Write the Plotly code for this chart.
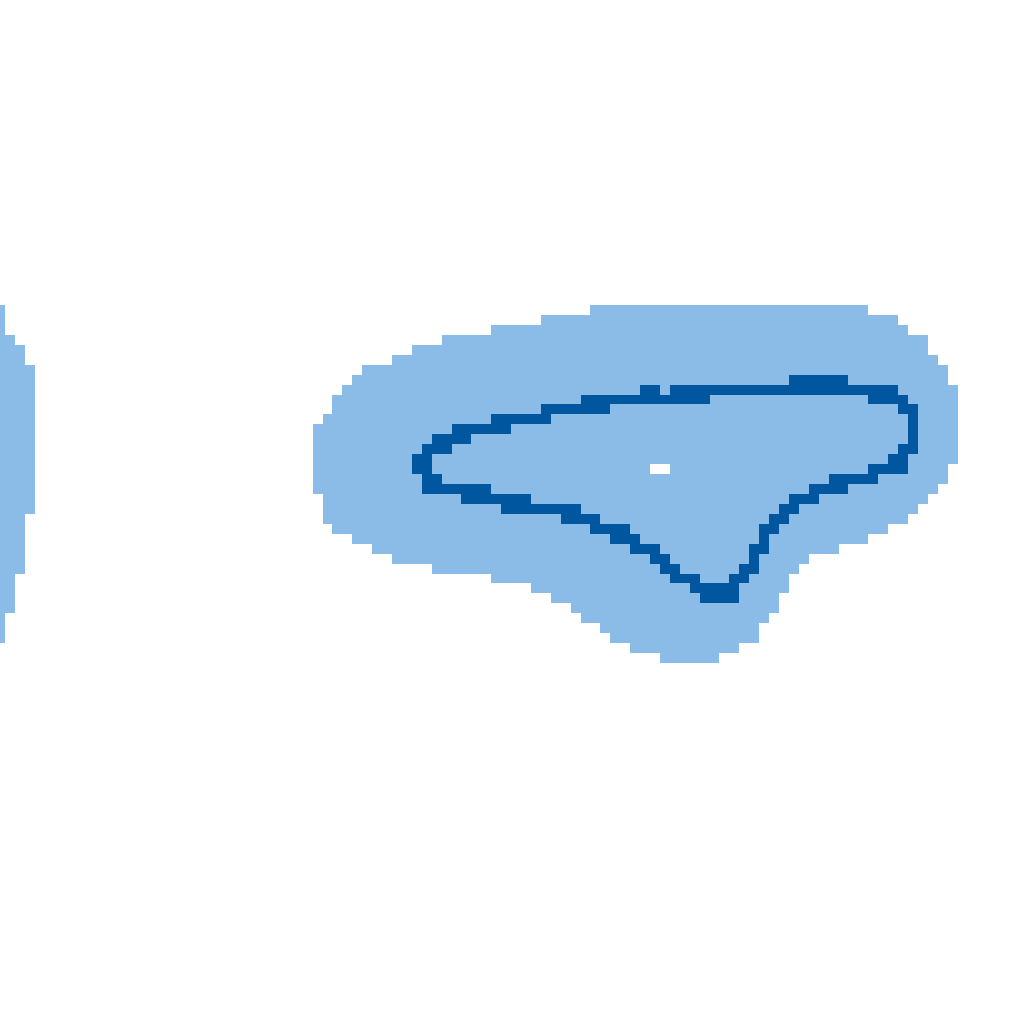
import numpy as np
import plotly.graph_objects as go

# ---- data (grid cell indices) ----
N_COLS = 104
N_ROWS = 104
FIRST_ROW = 31  # first row of the main shape

# main light region, rows 31..66: left / right column (inclusive)
light_left = [60, 55, 50, 45, 42, 40, 37, 36, 35, 34,
              34, 33, 32, 32, 32, 32, 32, 32, 32,
              33, 33, 33, 34, 36, 38, 40, 44, 50, 54,
              56, 58, 59, 61, 62, 64, 67]
light_right = [87, 90, 91, 93, 93, 94, 95, 95, 96, 96,
               96, 96, 96, 96, 96, 96, 95, 95, 94,
               93, 92, 91, 89, 87, 84, 81, 80, 79, 79,
               78, 78, 77, 76, 76, 74, 72]

# left-edge blob, rows 31..64: right column (starts at column 0)
blob_right = [0, 0, 0, 1, 2, 2,
              3, 3, 3, 3, 3, 3, 3, 3, 3, 3, 3, 3, 3, 3, 3,
              2, 2, 2, 2, 2, 2,
              1, 1, 1, 1,
              0, 0, 0]

# dark contour segments, keyed by row: (start col, end col)
dark_rows = {
    38: [(80, 85)],
    39: [(65, 66), (68, 90)],
    40: [(59, 71), (88, 91)],
    41: [(55, 61), (91, 92)],
    42: [(50, 55), (92, 92)],
    43: [(46, 51), (92, 92)],
    44: [(44, 47), (92, 92)],
    45: [(43, 45), (91, 92)],
    46: [(42, 43), (90, 91)],
    47: [(42, 43), (88, 91)],
    48: [(43, 44), (84, 88)],
    49: [(43, 49), (82, 85)],
    50: [(47, 53), (80, 82)],
    51: [(51, 58), (79, 80)],
    52: [(57, 60), (78, 79)],
    53: [(60, 63), (77, 78)],
    54: [(62, 64), (77, 77)],
    55: [(64, 66), (76, 77)],
    56: [(66, 67), (76, 76)],
    57: [(67, 68), (75, 76)],
    58: [(68, 70), (74, 75)],
    59: [(70, 74)],
    60: [(71, 74)],
}

# small hole inside the shape
hole_cells = [(47, 66), (47, 67)]

LIGHT = "#8ABCE7"
DARK = "#00569F"

# ---- build the grid ----
z = np.full((N_ROWS, N_COLS), np.nan)
for i, (l, r) in enumerate(zip(light_left, light_right)):
    z[FIRST_ROW + i, l:r + 1] = 1
for i, r in enumerate(blob_right):
    z[FIRST_ROW + i, 0:r + 1] = 1
for row, segs in dark_rows.items():
    for a, b in segs:
        z[row, a:b + 1] = 2
for row, col in hole_cells:
    z[row, col] = np.nan

fig = go.Figure(go.Heatmap(
    z=z,
    x=list(range(N_COLS)),
    y=list(range(N_ROWS)),
    zmin=0.5, zmax=2.5,
    colorscale=[[0, LIGHT], [0.5, LIGHT], [0.5, DARK], [1, DARK]],
    showscale=False,
    zsmooth=False,
    hoverongaps=False,
))

CW = 9.92
CH = 9.94
xmin = -0.5 + 4.92 / CW
ytop = -0.5 + 3.14 / CH
fig.update_layout(
    width=1024, height=1024,
    margin=dict(l=0, r=0, t=0, b=0),
    paper_bgcolor="white", plot_bgcolor="white",
    xaxis=dict(range=[xmin, xmin + 1024 / CW], visible=False, fixedrange=True),
    yaxis=dict(range=[ytop + 1024 / CH, ytop], visible=False, fixedrange=True),
    showlegend=False,
)

fig.write_html("out.html")
